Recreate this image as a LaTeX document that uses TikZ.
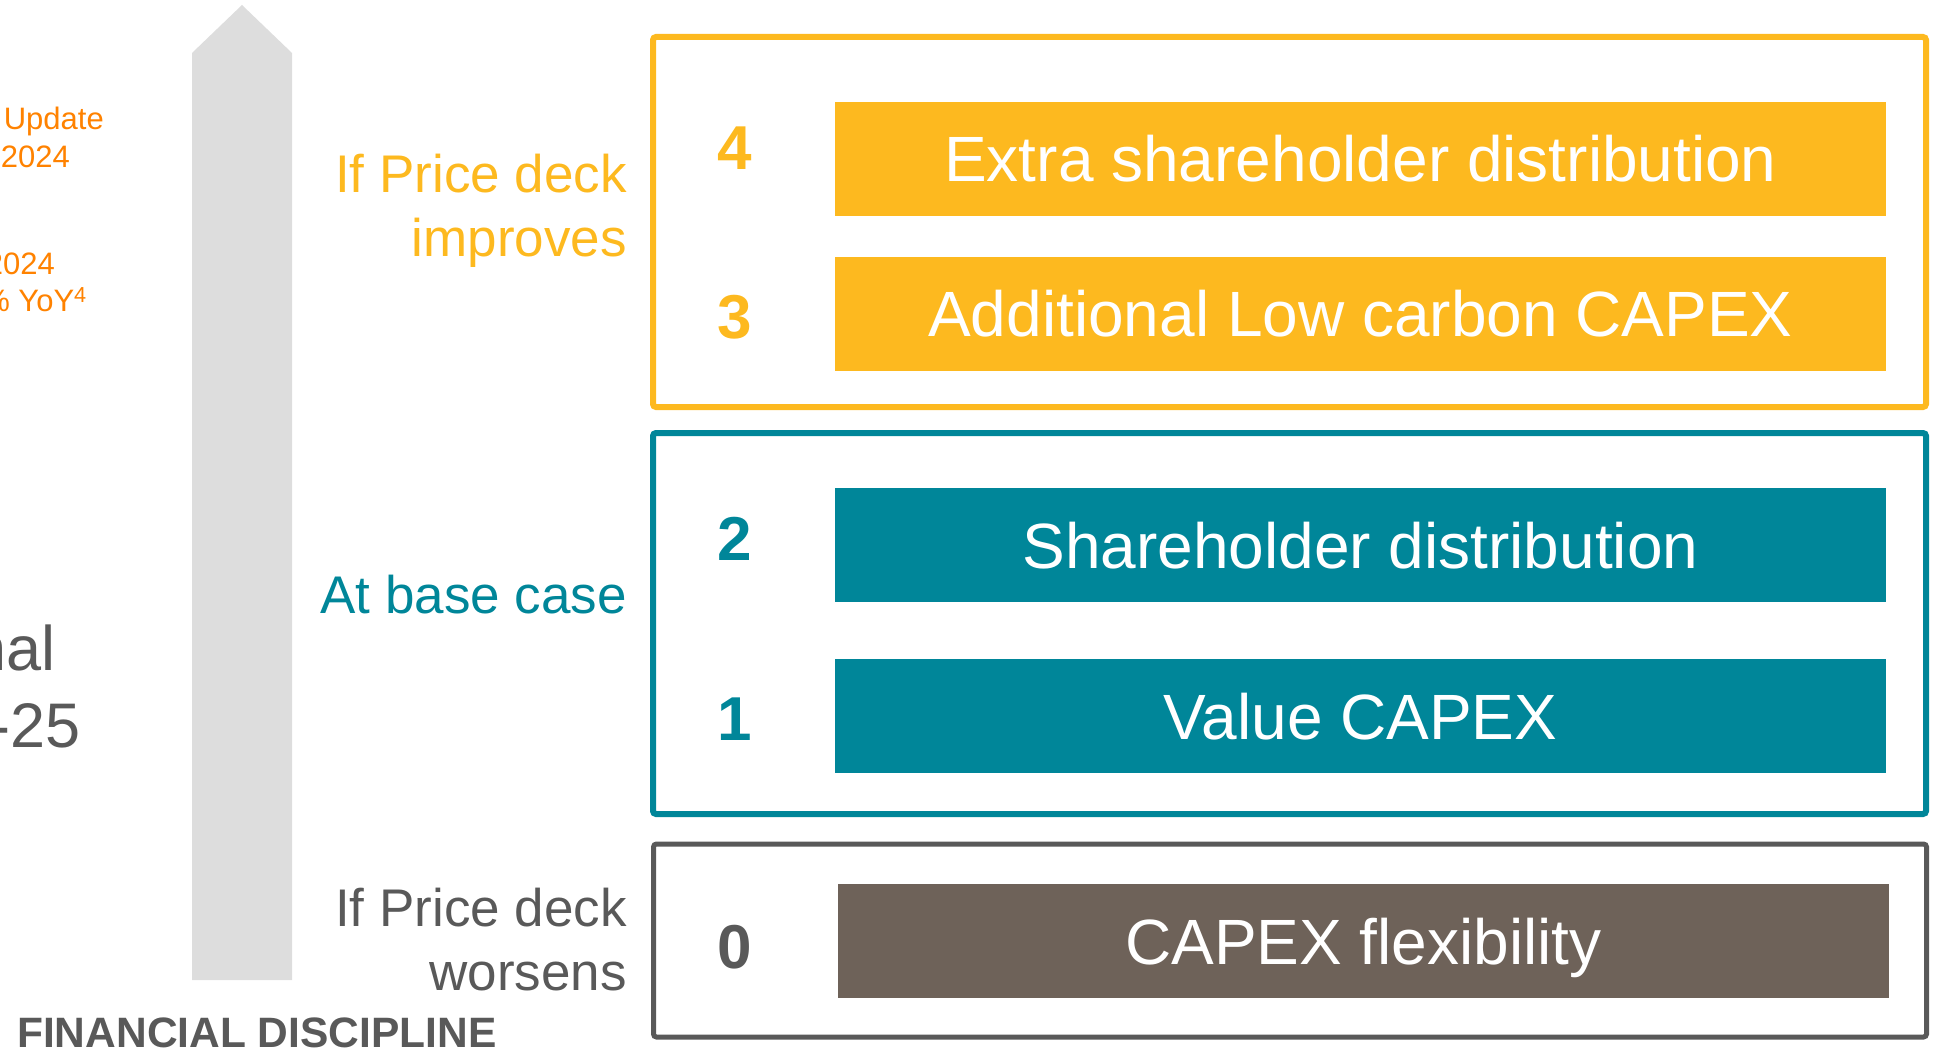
\documentclass[tikz,border=0pt]{standalone}
\usepackage{fontspec}
\setmainfont{Liberation Sans}
\usepackage{tikz}
\usetikzlibrary{positioning}

\definecolor{deckyellow}{RGB}{253,185,31}
\definecolor{baseteal}{RGB}{0,134,153}
\definecolor{flexbrown}{RGB}{110,98,89}
\definecolor{textgray}{RGB}{89,89,89}
\definecolor{noteorange}{RGB}{255,130,0}
\definecolor{arrowgray}{RGB}{221,221,221}

\begin{document}
\begin{tikzpicture}[x=1pt, y=-1pt,
  framebox/.style = {draw, line width=6pt, rounded corners=3pt, minimum width=1273pt, inner sep=0pt},
  barbox/.style = {text=white, minimum width=1051pt, minimum height=114pt, inner sep=0pt,
    text height=46pt, text depth=0pt, font=\fontsize{64}{77}\selectfont},
  ranknum/.style = {anchor=base, inner sep=0pt, font=\fontsize{62}{74}\selectfont\bfseries},
  casetext/.style = {align=right, inner sep=0pt, font=\fontsize{53}{64}\selectfont},
  notetext/.style = {anchor=base east, inner sep=0pt, text=noteorange, font=\fontsize{31}{37}\selectfont},
  cuttext/.style = {anchor=base east, inner sep=0pt, text=textgray, font=\fontsize{63}{76}\selectfont}]

  \clip (0,0) rectangle (1940,1048);

  % rising arrow
  \fill [arrowgray] (192,980) -- (192,53) -- (242,5) -- (292,53) -- (292,980) -- cycle;

  % cut-off notes on the left
  \node (noteA) [notetext] at (104,130) {Update};
  \node (noteB) [notetext] at (70,168) {2024};
  \node (noteC) [notetext] at (55,275) {2024};
  \node (noteD) [notetext] at (87,312) {\% YoY\textsuperscript{4}};
  \node (cutA) [cuttext] at (56,670) {nal};
  \node (cutB) [cuttext] at (81,747) {-25};

  % frames
  \node (upper) [framebox, draw=deckyellow, minimum height=370pt] at (1289.5,222) {};
  \node (middle) [framebox, draw=baseteal, minimum height=381pt] at (1289.5,623.5) {};
  \node (lower) [framebox, draw=textgray, line width=5pt, minimum height=193pt] at (1290,940.5) {};

  % bars
  \node (bar4) [barbox, fill=deckyellow] at (1360.5,159) {Extra shareholder distribution};
  \node (bar3) [barbox, fill=deckyellow] at (1360.5,314) {Additional Low carbon CAPEX};
  \node (bar2) [barbox, fill=baseteal] at (1360.5,545) {Shareholder distribution};
  \node (bar1) [barbox, fill=baseteal] at (1360.5,716) {Value CAPEX};
  \node (bar0) [barbox, fill=flexbrown] at (1363.5,941) {CAPEX flexibility};

  % ranks
  \node (n4) [ranknum, text=deckyellow] at (735,170) {4};
  \node (n3) [ranknum, text=deckyellow] at (735,338) {3};
  \node (n2) [ranknum, text=baseteal] at (735,560) {2};
  \node (n1) [ranknum, text=baseteal] at (735,740) {1};
  \node (n0) [ranknum, text=textgray] at (735,968) {0};

  % cases
  \node (improves) [casetext, text=deckyellow, anchor=east] at (627,211) {If Price deck\\improves};
  \node (basecase) [casetext, text=baseteal, anchor=base east] at (627,613) {At base case};
  \node (worsens) [casetext, text=textgray, anchor=east] at (627,940) {If Price deck\\worsens};

  \node (discipline) [anchor=base west, inner sep=0pt, text=textgray,
    font=\fontsize{42.5}{50}\selectfont\bfseries] at (17,1047) {FINANCIAL DISCIPLINE};
\end{tikzpicture}
\end{document}
